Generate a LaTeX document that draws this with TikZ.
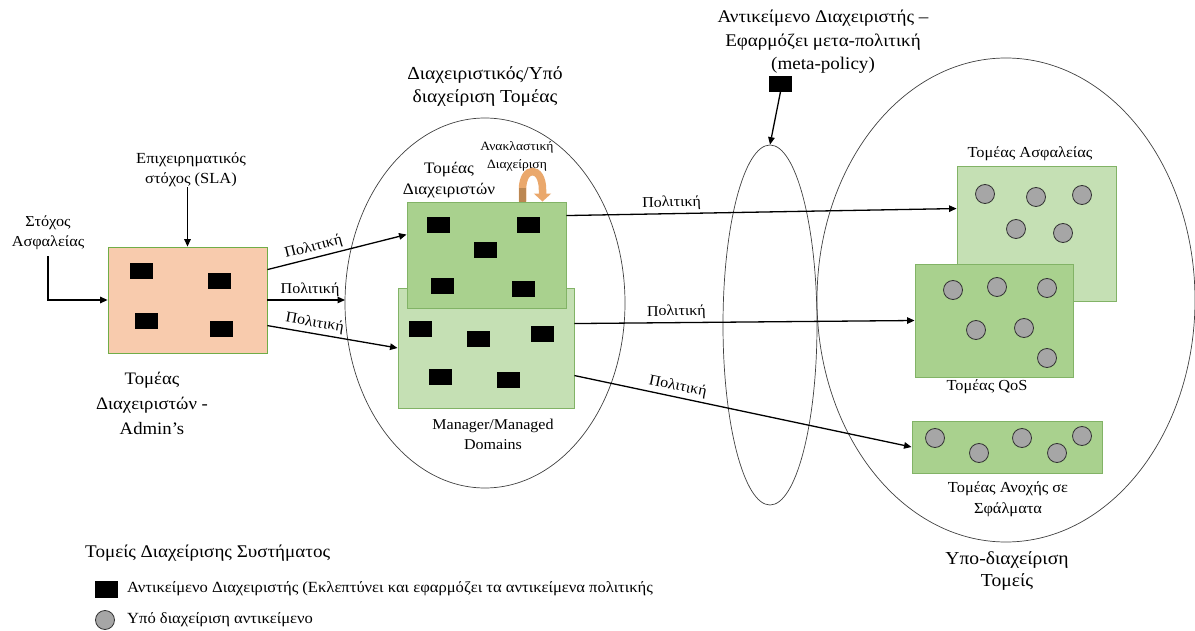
\documentclass[tikz,border=0pt]{standalone}
\usepackage{fontspec}
\setmainfont[FakeStretch=1.07]{Liberation Serif}
\usetikzlibrary{arrows.meta,shapes.geometric}
\definecolor{salmon}{HTML}{F8CBAD}
\definecolor{boxedge}{HTML}{70AD47}
\definecolor{greendark}{HTML}{A9D18E}
\definecolor{greenlight}{HTML}{C5E0B4}
\definecolor{greenedge}{HTML}{82B366}
\definecolor{objgray}{HTML}{A6A6A6}
\definecolor{reflorange}{HTML}{EAA86C}
\definecolor{reflbrown}{HTML}{BC8752}
\begin{document}
\begin{tikzpicture}[x=1pt,y=-1pt,
  txt/.style 2 args={font=\fontsize{#1}{#2}\selectfont, align=center, inner sep=0pt},
  mobj/.style={draw=black, fill=black, minimum width=22pt, minimum height=15pt, inner sep=0pt},
  sobj/.style={circle, draw=black!80, fill=objgray, line width=0.8pt, minimum size=19pt, inner sep=0pt},
  ring/.style={ellipse, draw=black!75, line width=0.7pt, inner sep=0pt},
  dombox/.style={draw=greenedge, line width=0.9pt, inner sep=0pt},
  arr/.style={-{Triangle[length=7.5pt,width=6.5pt]}, line width=1.3pt},
  pol/.style={txt={15}{18}, inner sep=3pt, sloped, above}
]
\useasboundingbox (0,0) rectangle (1195,631);

% domain boundaries
\node[ring, minimum width=280pt, minimum height=370pt] (dom) at (485,303) {};
\node[ring, minimum width=94pt, minimum height=360pt] (meta) at (770,325) {};
\node[ring, minimum width=378pt, minimum height=484pt] (sub) at (1006,300) {};

% administrators' domain
\node[draw=boxedge, fill=salmon, line width=0.8pt, minimum width=159pt, minimum height=106pt, inner sep=0pt] (admin) at (187.5,300) {};
\foreach \p [count=\i] in {(141.5,270.5),(219,280.5),(146,320.5),(221,328.5)}
  \node[mobj] (ad\i) at \p {};

% manager / managed domains
\node[dombox, fill=greenlight, minimum width=176pt, minimum height=120pt] (mgrlow) at (486,348) {};
\node[dombox, fill=greendark, minimum width=159pt, minimum height=106pt] (mgrtop) at (486.5,255) {};
\foreach \p [count=\i] in {(438,224.5),(528,224.5),(485,249.5),(442.5,285.5),(523.5,288.5)}
  \node[mobj] (mt\i) at \p {};
\foreach \p [count=\i] in {(420.5,328.5),(478,338.5),(542.5,333.5),(440,376.5),(508,379.5)}
  \node[mobj] (ml\i) at \p {};

% reflective management arrow
\coordinate (rf1) at ([xshift=36pt]mgrtop.north);
\coordinate (rf2) at ([xshift=56pt]mgrtop.north);
\draw[reflorange, line width=7.5pt, -{Triangle[length=8pt,width=17pt]}]
  (rf1) -- ([yshift=12pt]rf1) .. controls +(0,-24) and +(0,-24) .. ([yshift=12pt]rf2) -- (rf2);
\draw[reflbrown, line width=7.5pt] (rf1) -- ([yshift=14pt]rf1);

% meta-policy manager object
\node[mobj] (metaobj) at (780.5,84) {};

% managed sub-domains
\node[dombox, fill=greenlight, minimum width=159pt, minimum height=135pt] (secdom) at (1036.5,233.5) {};
\node[dombox, fill=greendark, minimum width=158pt, minimum height=113pt] (qos) at (994,320.5) {};
\node[dombox, fill=greendark, minimum width=190pt, minimum height=52pt] (fault) at (1007,447) {};
\foreach \p [count=\i] in {(985,194),(1036,197),(1082,195),(1016,229),(1063,233)}
  \node[sobj] (sc\i) at \p {};
\foreach \p [count=\i] in {(953,290),(997,287),(1047,288),(976,330),(1024,328),(1047,358)}
  \node[sobj] (qs\i) at \p {};
\foreach \p [count=\i] in {(935,438),(979,453),(1022,438),(1057,453),(1082,436)}
  \node[sobj] (ft\i) at \p {};

% labels
\node[txt={15.4}{20}] (sla) at (191,170) {Επιχειρηματικός\\στόχος (SLA)};
\node[txt={15.2}{20}] (sec) at (48,233) {Στόχος\\Ασφαλείας};
\node[txt={17.5}{25}] (admlbl) at (152,403) {Τομέας\\Διαχειριστών -\\Admin’s};
\node[txt={18.3}{23}] (domlbl) at (485,87) {Διαχειριστικός/Υπό\\διαχείριση Τομέας};
\node[txt={16}{21}] (mtlbl) at (449,180) {Τομέας\\Διαχειριστών};
\node[txt={12.7}{18}] (refllbl) at (517,156) {Ανακλαστική\\Διαχείριση};
\node[txt={15}{20}] (mmlbl) at (493,434) {Manager/Managed\\Domains};
\node[txt={17.8}{23.5}] (metalbl) at (823,42) {Αντικείμενο Διαχειριστής –\\Εφαρμόζει μετα-πολιτική\\(meta-policy)};
\node[txt={15.3}{18}] (seclbl) at (1030,154) {Τομέας Ασφαλείας};
\node[txt={15.3}{18}] (qoslbl) at (987,387) {Τομέας QoS};
\node[txt={15.3}{21}] (ftlbl) at (1008,499) {Τομέας Ανοχής σε\\Σφάλματα};
\node[txt={18.3}{22}] (sublbl) at (1007,571) {Υπο-διαχείριση\\Τομείς};

% inputs to the administrators' domain
\draw[arr] (sla.south -| admin.north) -- (admin.north);
\draw[arr] ([yshift=-6pt]sec.south) |- (admin.west);

% policies
\coordinate (free) at (345,300);
\draw[arr] ([yshift=-23pt]admin.north east) -- node[pol, pos=0.35] {Πολιτική} ([yshift=-33pt]mgrtop.north west);
\draw[arr] (admin.east) -- node[pol, pos=0.55] {Πολιτική} (free);
\draw[arr] ([yshift=-79pt]admin.north east) -- node[pol, pos=0.35] {Πολιτική} (mgrlow.west);
\draw[arr] ([yshift=-14pt]mgrtop.north east) -- node[pol, pos=0.27] {Πολιτική} ([yshift=-43pt]secdom.north west);
\draw[arr] ([yshift=-36pt]mgrlow.north east) -- node[pol, pos=0.30] {Πολιτική} (qos.west);
\draw[arr] ([yshift=-88pt]mgrlow.north east) -- node[pol, pos=0.30] {Πολιτική} (fault.west);

% meta-policy
\draw[arr] (metaobj.south) -- (meta.north);

% legend
\node[txt={17.8}{20}, anchor=west] (legtitle) at (85,553) {Τομείς Διαχείρισης Συστήματος};
\node[mobj, minimum width=22pt, minimum height=16pt] (legobj) at (106,589) {};
\node[sobj] (legsub) at (105,620) {};
\node[txt={15.5}{17}, anchor=west] (legobjtxt) at (127,589) {Αντικείμενο Διαχειριστής (Εκλεπτύνει και εφαρμόζει τα αντικείμενα πολιτικής};
\node[txt={15.5}{17}, anchor=west] (legsubtxt) at (127,620) {Υπό διαχείριση αντικείμενο};
\end{tikzpicture}
\end{document}
